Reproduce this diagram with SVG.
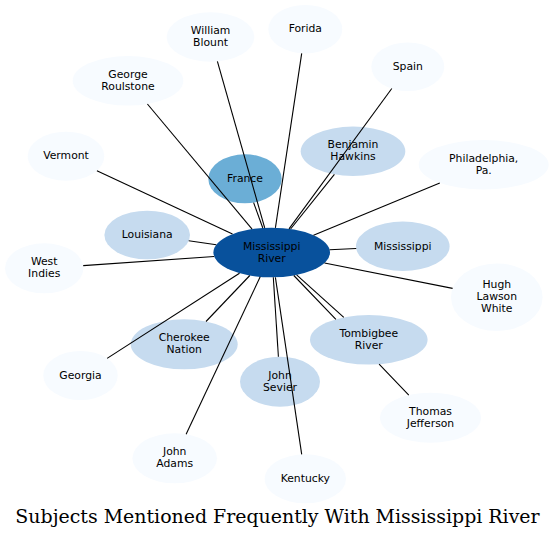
<svg xmlns="http://www.w3.org/2000/svg" width="555" height="539" viewBox="0 0 555 539">
<style>
text{font-family:"DejaVu Sans","Liberation Sans",sans-serif;font-size:10.8px;fill:#000;text-anchor:middle}
.t{font-family:"DejaVu Serif","Liberation Serif",serif;font-size:18.95px;fill:#000}
.l0{fill:#f7fbff}.l1{fill:#c6dbef}.l2{fill:#6baed6}.l3{fill:#08519c}
#edges path{stroke:#000;stroke-width:1.1;fill:none}
</style>
<rect width="555" height="539" fill="#fff"/>
<g id="nodes">
<g id="n-mississippi-river"><ellipse class="l3" cx="271.7" cy="252.5" rx="58.3" ry="24.8"/><text x="271.7" y="249.5">Mississippi</text><text x="271.7" y="261.5">River</text></g>
<g id="n-william-blount"><ellipse class="l0" cx="210.5" cy="37" rx="43.8" ry="24.7"/><text x="210.5" y="34">William</text><text x="210.5" y="46">Blount</text></g>
<g id="n-forida"><ellipse class="l0" cx="305.3" cy="29.2" rx="37" ry="24.2"/><text x="305.3" y="32.4">Forida</text></g>
<g id="n-spain"><ellipse class="l0" cx="407.8" cy="66.7" rx="36.5" ry="24.3"/><text x="407.8" y="69.9">Spain</text></g>
<g id="n-george-roulstone"><ellipse class="l0" cx="128" cy="80.8" rx="55.3" ry="24.8"/><text x="128" y="77.8">George</text><text x="128" y="89.8">Roulstone</text></g>
<g id="n-benjamin-hawkins"><ellipse class="l1" cx="353" cy="151.3" rx="52.3" ry="24.7"/><text x="353" y="148.3">Benjamin</text><text x="353" y="160.3">Hawkins</text></g>
<g id="n-philadelphia"><ellipse class="l0" cx="483.7" cy="164.7" rx="65" ry="24.7"/><text x="483.7" y="161.7">Philadelphia,</text><text x="483.7" y="173.7">Pa.</text></g>
<g id="n-vermont"><ellipse class="l0" cx="66" cy="156.2" rx="38.3" ry="24.5"/><text x="66" y="159.4">Vermont</text></g>
<g id="n-france"><ellipse class="l2" cx="245" cy="178.8" rx="36.7" ry="24.5"/><text x="245" y="182">France</text></g>
<g id="n-louisiana"><ellipse class="l1" cx="147.2" cy="235" rx="42.8" ry="24.3"/><text x="147.2" y="238.2">Louisiana</text></g>
<g id="n-mississippi"><ellipse class="l1" cx="402.8" cy="246.3" rx="46.8" ry="24.7"/><text x="402.8" y="249.5">Mississippi</text></g>
<g id="n-west-indies"><ellipse class="l0" cx="44.2" cy="268.3" rx="39.2" ry="25"/><text x="44.2" y="265.3">West</text><text x="44.2" y="277.3">Indies</text></g>
<g id="n-hugh-lawson-white"><ellipse class="l0" cx="496.8" cy="297.2" rx="45.8" ry="33.8"/><text x="496.8" y="288">Hugh</text><text x="496.8" y="300.2">Lawson</text><text x="496.8" y="312.4">White</text></g>
<g id="n-tombigbee-river"><ellipse class="l1" cx="368.8" cy="339.8" rx="58.8" ry="24.8"/><text x="368.8" y="336.8">Tombigbee</text><text x="368.8" y="348.8">River</text></g>
<g id="n-cherokee-nation"><ellipse class="l1" cx="184.2" cy="344.3" rx="53.5" ry="25"/><text x="184.2" y="341.3">Cherokee</text><text x="184.2" y="353.3">Nation</text></g>
<g id="n-georgia"><ellipse class="l0" cx="80.5" cy="375.5" rx="37.2" ry="24.5"/><text x="80.5" y="378.7">Georgia</text></g>
<g id="n-john-sevier"><ellipse class="l1" cx="280" cy="381.7" rx="40" ry="25"/><text x="280" y="378.7">John</text><text x="280" y="390.7">Sevier</text></g>
<g id="n-thomas-jefferson"><ellipse class="l0" cx="430.5" cy="417.7" rx="50.5" ry="25"/><text x="430.5" y="414.7">Thomas</text><text x="430.5" y="426.7">Jefferson</text></g>
<g id="n-john-adams"><ellipse class="l0" cx="174.7" cy="458.3" rx="42.3" ry="25"/><text x="174.7" y="455.3">John</text><text x="174.7" y="467.3">Adams</text></g>
<g id="n-kentucky"><ellipse class="l0" cx="305.3" cy="478.8" rx="40.7" ry="24.5"/><text x="305.3" y="482">Kentucky</text></g>
</g>
<g id="edges">
<path d="M264.7,227.9L217.4,61.4"/>
<path d="M275.4,227.8L301.7,53.3"/>
<path d="M289,228.8L391.8,88.5"/>
<path d="M252.1,229.1L147.4,104"/>
<path d="M290.6,229L334.4,174.4"/>
<path d="M313.5,235.2L439.8,182.9"/>
<path d="M232.5,234.1L96.9,170.7"/>
<path d="M262.8,228L253.6,202.6"/>
<path d="M216.3,244.7L188.7,240.8"/>
<path d="M329.6,249.8L356.2,248.5"/>
<path d="M214.2,256.5L83.2,265.6"/>
<path d="M324.5,263L452.6,288.4"/>
<path d="M296.6,274.9L343.8,317.3"/>
<path d="M249.8,275.5L206,321.5"/>
<path d="M239.5,273.2L107.1,358.4"/>
<path d="M273.3,277.3L278.4,356.7"/>
<path d="M293.8,275.5L335.9,319.3M379.1,364.2L408.8,395.1"/>
<path d="M260.2,276.8L186.1,434.2"/>
<path d="M275.4,277.3L301.7,454.4"/>
</g>
<text class="t" x="277.5" y="522.5">Subjects Mentioned Frequently With Mississippi River</text>
</svg>
